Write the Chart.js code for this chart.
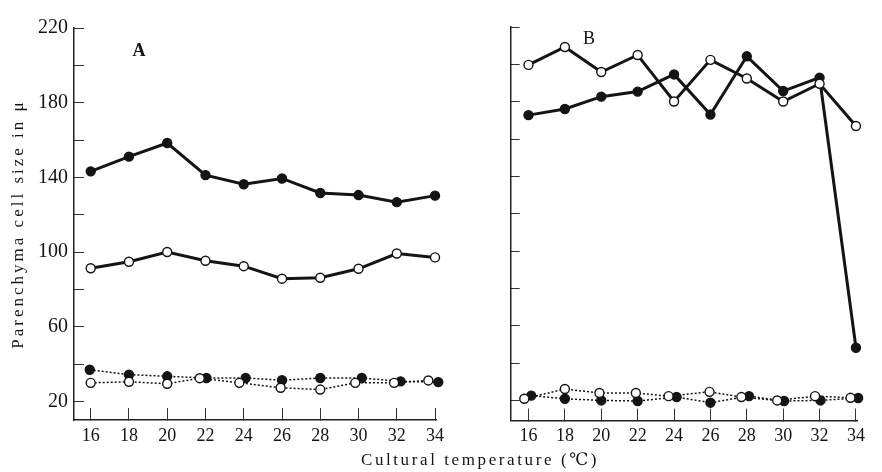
<!DOCTYPE html>
<html><head><meta charset="utf-8">
<script src="https://cdn.jsdelivr.net/npm/chart.js@4/dist/chart.umd.min.js"></script>
<style>
html,body{margin:0;padding:0;background:#fff;}
#wrap{position:relative;width:882px;height:472px;}
#wrap canvas{position:absolute;left:0;top:0;}
</style></head><body>
<div id="wrap"><canvas id="cA" width="882" height="472"></canvas><canvas id="cB" width="882" height="472"></canvas></div>
<script>
// ---- data ----
const temps = [16, 18, 20, 22, 24, 26, 28, 30, 32, 34];
const xTickValues = [16, 18, 20, 22, 24, 26, 28, 30, 32, 34];
const yTickValues = [20, 40, 60, 80, 100, 120, 140, 160, 180, 200, 220];
const yLabelValues = [20, 60, 100, 140, 180, 220];

// Panel A
const aSolidFilled = [143.2, 151.1, 158.4, 141.2, 136.3, 139.4, 131.6, 130.5, 126.7, 130.2];
const aSolidOpen   = [91.3, 94.8, 100, 95.3, 92.4, 85.7, 86.2, 91, 99.2, 97.1];
const aDotFilled   = [36.9, 34.3, 33.4, 32.5, 32.5, 31.3, 32.5, 32.5, 30.7, 30.3];
const aDotFilledX  = [15.95, 18, 20, 22.05, 24.1, 26, 28, 30.17, 32.2, 34.17];
const aDotOpen     = [29.9, 30.5, 29.4, 32.4, 29.9, 27.3, 26.3, 29.9, 29.9, 31.2];
const aDotOpenX    = [16, 18, 20, 21.7, 23.77, 25.93, 28, 29.83, 31.86, 33.65];

// Panel B
const bSolidOpen   = [199.7, 209.3, 195.9, 205, 180.1, 202.4, 192.4, 180.1, 189.6, 167];
const bSolidFilled = [172.8, 176.1, 182.7, 185.4, 194.6, 173.1, 204.3, 185.7, 192.9, 48.2];
const bDotOpen     = [20.9, 26.1, 24, 24, 22.3, 24.6, 21.8, 20, 22.3, 21.4];
const bDotOpenX    = [15.77, 18, 19.9, 21.9, 23.7, 25.95, 27.7, 29.67, 31.75, 33.7];
const bDotFilled   = [22.6, 20.9, 20, 19.7, 21.8, 18.8, 22.3, 19.7, 20, 21.3];
const bDotFilledX  = [16.15, 18, 20, 22, 24.14, 26, 28.12, 30.05, 32.05, 34.12];

const yTitle = 'Parenchyma cell size in μ';
const xTitle = 'Cultural temperature (℃)';

// ---- helpers ----
const serif = '"Liberation Serif", "DejaVu Serif", serif';
const ink = '#141414';

function lineDs(xs, ys, filled, dotted) {
  return {
    data: xs.map((x, i) => ({x: x, y: ys[i]})),
    borderColor: ink,
    borderWidth: dotted ? 1.5 : 3,
    borderDash: dotted ? [2, 2] : [],
    pointRadius: 4.5,
    pointBackgroundColor: filled ? ink : '#fff',
    pointBorderColor: ink,
    pointBorderWidth: 1.4,
    tension: 0,
    fill: false,
    clip: false
  };
}

function xScale(min, max, h) {
  return {
    type: 'linear', min: min, max: max,
    afterBuildTicks: s => { s.ticks = xTickValues.map(v => ({value: v})); },
    afterFit: s => { s.height = h; },
    ticks: {font: {family: serif, size: 18}, color: ink, padding: 17, z: 1,
            autoSkip: false, maxRotation: 0, callback: v => String(v)},
    grid: {drawOnChartArea: false, drawTicks: true, tickLength: -12, color: '#333', lineWidth: 1},
    border: {display: true, color: '#222', width: 1.5}
  };
}

function yScale(min, max, w, labels, tl, title) {
  const sc = {
    type: 'linear', min: min, max: max,
    afterBuildTicks: s => { s.ticks = yTickValues.map(v => ({value: v})); },
    afterFit: s => { s.width = w; },
    ticks: {font: {family: serif, size: 20}, color: ink, padding: 6 + tl, z: 1, autoSkip: false,
            callback: v => (labels && yLabelValues.includes(v)) ? String(v) : ''},
    grid: {drawOnChartArea: false, drawTicks: true, tickLength: -tl, color: '#333', lineWidth: 1},
    border: {display: true, color: '#222', width: 1.5}
  };
  if (title) {
    sc.title = {display: true, text: title, color: ink, font: {family: serif, size: 17}, padding: {top: 8, bottom: 0}};
  }
  return sc;
}

const spacing = {
  id: 'spacing',
  beforeDraw(chart, args, opts) { chart.ctx.letterSpacing = opts.value || '0px'; },
  beforeDatasetsDraw(chart) { chart.ctx.letterSpacing = '0px'; }
};

const panelLabel = {
  id: 'panelLabel',
  afterDraw(chart, args, opts) {
    const ctx = chart.ctx, a = chart.chartArea;
    ctx.save();
    ctx.letterSpacing = '0px';
    ctx.font = opts.font;
    ctx.fillStyle = ink;
    ctx.textAlign = 'center';
    ctx.textBaseline = 'middle';
    ctx.fillText(opts.text, a.left + opts.dx, a.top + opts.dy);
    ctx.restore();
  }
};

const common = {
  responsive: false, animation: false, devicePixelRatio: 1,
  events: []
};

// ---- Panel A ----
new Chart(document.getElementById('cA'), {
  type: 'line',
  data: {datasets: [
    lineDs(temps, aSolidFilled, true, false),
    lineDs(temps, aSolidOpen, false, false),
    lineDs(aDotOpenX, aDotOpen, false, true),
    lineDs(aDotFilledX, aDotFilled, true, true)
  ]},
  options: Object.assign({}, common, {
    layout: {padding: {left: 0, top: 18.3, right: 446, bottom: 0}},
    scales: {
      x: xScale(15.127, 34.05, 52),
      y: yScale(10, 220, 74, true, 10, yTitle)
    },
    plugins: {
      legend: {display: false}, tooltip: {enabled: false}, title: {display: false},
      spacing: {value: '3px'},
      panelLabel: {text: 'A', dx: 65, dy: 23, font: 'bold 18px ' + serif}
    }
  }),
  plugins: [spacing, panelLabel]
});

// ---- Panel B ----
new Chart(document.getElementById('cB'), {
  type: 'line',
  data: {datasets: [
    lineDs(temps, bSolidOpen, false, false),
    lineDs(temps, bSolidFilled, true, false),
    lineDs(bDotOpenX, bDotOpen, false, true),
    lineDs(bDotFilledX, bDotFilled, true, true)
  ]},
  options: Object.assign({}, common, {
    layout: {padding: {left: 87, top: 20.7, right: 9, bottom: 0}},
    scales: {
      x: xScale(15.022, 34.07, 30),
      y: yScale(9.2, 220, 423.7, false, 9, null)
    },
    plugins: {
      legend: {display: false}, tooltip: {enabled: false},
      title: {display: true, position: 'bottom', text: xTitle, color: ink,
              font: {family: serif, size: 17, weight: 'normal'}, padding: {top: 0, bottom: 1}},
      spacing: {value: '2.6px'},
      panelLabel: {text: 'B', dx: 78.3, dy: 12.3, font: '18px ' + serif}
    }
  }),
  plugins: [spacing, panelLabel]
});
</script>
</body></html>
